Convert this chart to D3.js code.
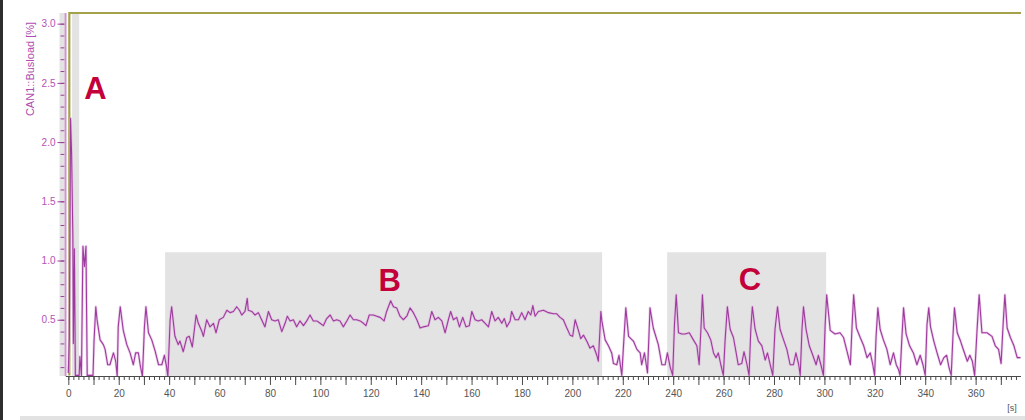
<!DOCTYPE html>
<html>
<head>
<meta charset="utf-8">
<script src="https://cdn.jsdelivr.net/npm/d3@7"></script>
<style>
  body { margin: 0; background: #fff; }
  svg { display: block; }
</style>
</head>
<body>
<svg width="1025" height="420"></svg>
<script>
// bus load recording, time in s, value in %
let busT = [0,0.4,0.9,1.3,1.8,2.0,2.4,2.8,4.3,4.6,5.2,5.8,6.4,7.0,7.5,9.8,10.2,10.9,11.4,12.6,13.9,14.6,15.6,16.5,17.9,18.8,19.4,19.8,20.6,21.8,23.2,24.5,25.8,26.7,27.8,28.5,29.4,30.2,30.8,31.8,33.1,34.4,35.8,37.1,38.1,39.0,39.5,40.4,41.0,42.3,43.6,44.3,45.6,47.0,48.0,49.2,50.7,51.6,53.0,53.6,54.9,56.2,57.6,58.6,59.9,61.5,62.9,64.2,65.5,66.8,67.9,68.8,70.1,71.0,71.4,72.8,74.1,75.4,76.7,78.0,79.4,80.7,82.0,83.3,84.7,86.0,86.9,88.0,89.3,90.6,91.9,93.3,94.6,95.9,97.2,98.6,99.9,101.2,102.5,103.9,105.2,106.5,107.8,109.1,110.5,111.8,113.1,114.4,115.8,117.1,118.1,119.4,121.0,122.4,123.7,125.3,126.3,127.9,129.0,130.3,131.6,132.9,134.3,135.6,136.9,138.3,139.6,140.9,142.9,144.2,145.5,146.8,148.2,149.5,150.8,151.7,152.8,154.1,155.2,156.5,157.8,159.1,160.1,161.4,162.7,164.0,165.4,166.7,168.0,169.3,170.6,172.0,173.0,174.0,175.3,175.9,177.3,178.6,179.9,181.2,182.5,183.5,184.3,185.2,186.5,188.5,190.5,192.5,193.8,195.1,196.4,197.8,199.1,200.1,201.1,202.4,203.3,204.4,205.7,207.0,208.3,209.7,210.3,211.3,211.7,213.0,214.3,215.6,216.3,217.6,218.5,219.6,220.2,221.2,222.3,224.2,225.6,226.9,227.5,228.6,229.8,230.8,232.1,234.1,235.5,236.8,237.7,238.8,239.8,240.5,241.2,242.1,243.4,244.7,246.4,248.0,249.4,250.3,251.0,251.6,252.3,253.6,254.9,256.0,257.0,257.9,258.9,259.9,260.6,261.5,262.6,263.9,264.9,265.8,267.2,268.1,269.2,270.1,270.8,271.4,272.5,273.8,275.2,276.5,277.4,278.5,279.5,280.4,281.4,282.4,283.8,285.1,286.4,287.7,288.7,289.8,290.4,291.1,291.7,292.7,294.0,295.4,296.7,297.6,298.6,299.6,300.3,300.9,302.3,304.2,306.2,307.6,309.0,310.3,311.0,311.6,312.7,314.2,315.6,316.9,318.2,319.2,319.9,320.5,321.2,322.1,323.4,324.8,326.1,327.4,328.5,329.4,330.0,330.7,331.4,332.4,333.8,335.3,336.7,338.0,339.1,340.0,340.7,341.4,342.1,343.4,344.7,346.1,347.4,348.5,349.4,350.3,351.0,351.6,352.7,354.0,355.4,356.7,357.7,358.7,359.6,360.5,361.4,362.5,364.5,366.5,367.8,369.1,370.1,370.9,371.6,372.5,373.8,375.2,376.5,377.8];
let busV = [0.05,0.35,2.2,1.9,1.2,0.3,1.1,0.03,0.03,0.19,0.03,1.12,0.95,1.12,0.03,0.03,0.32,0.61,0.5,0.33,0.29,0.25,0.12,0.12,0.22,0.15,0.02,0.44,0.61,0.41,0.29,0.22,0.12,0.22,0.22,0.12,0.02,0.44,0.61,0.39,0.33,0.24,0.12,0.12,0.2,0.1,0.02,0.5,0.61,0.36,0.29,0.32,0.23,0.35,0.36,0.27,0.54,0.47,0.4,0.36,0.5,0.44,0.47,0.39,0.5,0.52,0.58,0.56,0.57,0.61,0.58,0.54,0.57,0.68,0.58,0.57,0.54,0.56,0.5,0.44,0.57,0.5,0.49,0.5,0.4,0.47,0.53,0.49,0.5,0.44,0.49,0.45,0.49,0.54,0.49,0.49,0.47,0.45,0.51,0.54,0.49,0.5,0.49,0.44,0.49,0.54,0.5,0.5,0.49,0.47,0.45,0.54,0.54,0.53,0.52,0.49,0.57,0.66,0.61,0.6,0.53,0.5,0.53,0.6,0.56,0.5,0.43,0.44,0.45,0.57,0.5,0.52,0.49,0.39,0.5,0.57,0.5,0.52,0.44,0.52,0.44,0.45,0.57,0.5,0.49,0.5,0.47,0.44,0.57,0.49,0.52,0.47,0.51,0.44,0.49,0.57,0.5,0.5,0.56,0.5,0.57,0.54,0.62,0.53,0.57,0.58,0.56,0.55,0.55,0.52,0.5,0.43,0.37,0.36,0.5,0.41,0.34,0.37,0.32,0.26,0.28,0.2,0.15,0.57,0.49,0.33,0.28,0.22,0.13,0.12,0.2,0.03,0.25,0.6,0.36,0.32,0.25,0.22,0.12,0.22,0.05,0.6,0.43,0.29,0.12,0.12,0.22,0.1,0.03,0.46,0.71,0.39,0.38,0.38,0.39,0.33,0.28,0.12,0.42,0.71,0.43,0.39,0.33,0.22,0.18,0.22,0.12,0.03,0.33,0.61,0.42,0.35,0.23,0.12,0.13,0.23,0.13,0.03,0.42,0.61,0.42,0.32,0.28,0.16,0.22,0.12,0.03,0.42,0.61,0.42,0.33,0.25,0.12,0.12,0.22,0.12,0.03,0.42,0.61,0.42,0.28,0.2,0.12,0.2,0.12,0.03,0.46,0.71,0.41,0.38,0.39,0.35,0.23,0.12,0.46,0.71,0.43,0.35,0.28,0.18,0.22,0.12,0.03,0.36,0.6,0.42,0.33,0.25,0.12,0.22,0.12,0.08,0.03,0.33,0.6,0.38,0.28,0.22,0.12,0.2,0.12,0.03,0.46,0.6,0.44,0.32,0.22,0.12,0.18,0.2,0.1,0.03,0.36,0.6,0.39,0.32,0.23,0.15,0.2,0.15,0.03,0.39,0.71,0.39,0.39,0.36,0.28,0.25,0.13,0.46,0.71,0.43,0.35,0.28,0.18,0.18];

// second signal: jumps to full scale right after start
let stepT = [0.4, 0.4, 378];
let stepV = [0.03, 3.09, 3.09];

// marked regions
let regionNames = ["A", "B", "C"];
let regionStart = [1.5, 38.4, 237.6];
let regionEnd = [4.3, 211.8, 300.7];
let regionTop = [3.09, 1.07, 1.07];
let labelT = [10.8, 127.5, 270.5];
let labelV = [2.36, 0.74, 0.75];

let yMajor = [0.5, 1.0, 1.5, 2.0, 2.5, 3.0];
let yMinor = d3.range(1, 31).map(d => d / 10);
let xLabels = d3.range(0, 361, 20);

let svg = d3.select("svg");
let width = +svg.attr("width");
let height = +svg.attr("height");

let x = d3.scaleLinear().domain([-1, 378]).range([65.8, 1021]);
let y = d3.scaleLinear().domain([0.025, 3.09]).range([376, 13]);

// window chrome
svg.append("rect").attr("x", 0).attr("y", 0).attr("width", 3).attr("height", height).attr("fill", "#2e2e2e");
svg.append("rect").attr("x", 20).attr("y", 416).attr("width", width - 20).attr("height", 4).attr("fill", "#e2e2e2");

svg.append("defs").append("clipPath").attr("id", "plot")
  .append("rect")
    .attr("x", x.range()[0]).attr("y", y.range()[1] - 2)
    .attr("width", x.range()[1] - x.range()[0])
    .attr("height", y.range()[0] - y.range()[1] + 2);

// grey strip beside the y axis
svg.append("rect")
  .attr("x", 59.5).attr("y", y.range()[1])
  .attr("width", 5).attr("height", y.range()[0] - y.range()[1])
  .attr("fill", "#e3e3e3");

svg.append("g")
  .selectAll("rect")
  .data(regionNames)
  .enter().append("rect")
    .attr("x", (d, i) => x(regionStart[i]))
    .attr("y", (d, i) => y(regionTop[i]))
    .attr("width", (d, i) => x(regionEnd[i]) - x(regionStart[i]))
    .attr("height", (d, i) => y.range()[0] - y(regionTop[i]))
    .attr("fill", "#e3e3e3");

let plot = svg.append("g").attr("clip-path", "url(#plot)");

let line = d3.line()
  .x(d => x(d[0]))
  .y(d => y(d[1]));

let stepData = stepT.map((t, i) => [t, stepV[i]]);
plot.append("path")
  .datum(stepData)
  .attr("d", line)
  .attr("fill", "none")
  .attr("stroke", "#a3a24a")
  .attr("stroke-width", 2.2);

let busData = busT.map((t, i) => [t, busV[i]]);
plot.append("path")
  .datum(busData)
  .attr("d", line)
  .attr("fill", "none")
  .attr("stroke", "#dcaedc")
  .attr("stroke-width", 2.6)
  .attr("stroke-linejoin", "round")
  .attr("opacity", 0.6);
plot.append("path")
  .datum(busData)
  .attr("d", line)
  .attr("fill", "none")
  .attr("stroke", "#9e3a9e")
  .attr("stroke-width", 1.1)
  .attr("stroke-linejoin", "round");

// region letters
svg.append("g")
  .selectAll("text")
  .data(regionNames)
  .enter().append("text")
    .attr("x", (d, i) => x(labelT[i]))
    .attr("y", (d, i) => y(labelV[i]))
    .attr("text-anchor", "middle")
    .attr("font-family", "Liberation Sans, Arial, sans-serif")
    .attr("font-weight", "bold")
    .attr("font-size", 31)
    .attr("fill", "#c3003a")
    .text(d => d);

// y axis
let yAxisG = svg.append("g").attr("transform", "translate(64.5,0)");
yAxisG.call(d3.axisLeft(y).tickValues(yMinor).tickSize(4).tickFormat(""))
  .select(".domain").remove();
let yMaj = svg.append("g").attr("transform", "translate(64.5,0)");
yMaj.call(d3.axisLeft(y).tickValues(yMajor).tickSize(7).tickPadding(2).tickFormat(d3.format(".1f")))
  .select(".domain").remove();
svg.selectAll("g.tick line").attr("stroke", "#9a3f9a");
yMaj.selectAll("text")
  .attr("fill", "#b452b4")
  .attr("font-size", 10)
  .attr("font-family", "Liberation Sans, Arial, sans-serif");
svg.append("line")
  .attr("x1", 65.5).attr("x2", 65.5)
  .attr("y1", y.range()[1]).attr("y2", y.range()[0])
  .attr("stroke", "#cc94cc").attr("stroke-width", 2);

svg.append("text")
  .attr("transform", "translate(34,69) rotate(-90)")
  .attr("text-anchor", "middle")
  .attr("font-family", "Liberation Sans, Arial, sans-serif")
  .attr("font-size", 11)
  .attr("fill", "#b04cb0")
  .text("CAN1::Busload [%]");

// x axis
let xg = svg.append("g").attr("transform", "translate(0,376)");
xg.append("g").call(d3.axisBottom(x).tickValues(d3.range(0, 378, 2)).tickSize(4).tickFormat(""))
  .select(".domain").remove();
xg.append("g").call(d3.axisBottom(x).tickValues(d3.range(0, 378, 10)).tickSize(9).tickFormat(""))
  .select(".domain").remove();
xg.append("g").call(d3.axisBottom(x).tickValues(xLabels).tickSize(0).tickPadding(14))
  .select(".domain").remove();
xg.selectAll("line").attr("stroke", "#4a4a4a");
xg.selectAll("text")
  .attr("fill", "#555")
  .attr("font-size", 10)
  .attr("font-family", "Liberation Sans, Arial, sans-serif");
xg.append("line")
  .attr("x1", x.range()[0]).attr("x2", x.range()[1])
  .attr("y1", 0.5).attr("y2", 0.5)
  .attr("stroke", "#4a4a4a");

svg.append("text")
  .attr("x", 1012).attr("y", 411)
  .attr("text-anchor", "middle")
  .attr("font-family", "Liberation Sans, Arial, sans-serif")
  .attr("font-size", 9)
  .attr("fill", "#555")
  .text("[s]");
</script>
</body>
</html>
